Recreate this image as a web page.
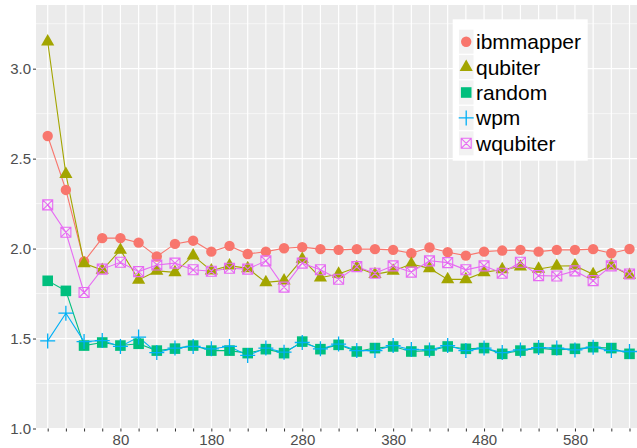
<!DOCTYPE html>
<html>
<head>
<meta charset="utf-8">
<script src="https://cdn.jsdelivr.net/npm/d3@7"></script>
<style>
  body { margin: 0; background: #fff; }
  svg { display: block; font-family: "Liberation Sans", Arial, sans-serif; }
</style>
</head>
<body>
<div id="chart"></div>
<script>
const rootWidth = 637;
const rootHeight = 448;

// x categories (discrete axis), only some of them get a label
const categories = [0, 20, 40, 60, 80, 100, 120, 140, 160, 180, 200, 220, 240, 260, 280, 300,
  320, 340, 360, 380, 400, 420, 440, 460, 480, 500, 520, 540, 560, 580, 600, 620, 640];
const xTickLabels = ["80", "180", "280", "380", "480", "580"];
const yTickValues = [1.0, 1.5, 2.0, 2.5, 3.0];
const yMinorValues = [1.25, 1.75, 2.25, 2.75, 3.25];

const seriesNames = ["ibmmapper", "qubiter", "random", "wpm", "wqubiter"];
const seriesColors = ["#F8766D", "#A3A500", "#00BF7D", "#00B0F6", "#E76BF3"];

const ibmmapper = [2.626, 2.326, 1.928, 2.058, 2.058, 2.033, 1.956, 2.026, 2.044, 1.983,
  2.015, 1.970, 1.983, 2.002, 2.008, 1.997, 1.993, 1.997, 1.997, 1.993, 1.974,
  2.006, 1.980, 1.961, 1.983, 1.989, 1.993, 1.983, 1.993, 1.993, 1.997, 1.974, 1.998];
const qubiter = [3.150, 2.414, 1.918, 1.881, 1.992, 1.826, 1.876, 1.868, 1.961, 1.877,
  1.905, 1.890, 1.812, 1.822, 1.942, 1.838, 1.859, 1.896, 1.857, 1.876, 1.914,
  1.890, 1.829, 1.829, 1.868, 1.884, 1.899, 1.887, 1.903, 1.905, 1.857, 1.905, 1.853];
const random = [1.821, 1.765, 1.461, 1.478, 1.461, 1.471, 1.433, 1.444, 1.461, 1.433,
  1.433, 1.419, 1.441, 1.419, 1.483, 1.441, 1.465, 1.428, 1.447, 1.456, 1.428,
  1.433, 1.456, 1.443, 1.447, 1.415, 1.433, 1.447, 1.437, 1.443, 1.452, 1.447, 1.415];
const wpm = [1.487, 1.641, 1.483, 1.489, 1.456, 1.508, 1.422, 1.447, 1.456, 1.443,
  1.456, 1.406, 1.447, 1.424, 1.478, 1.443, 1.469, 1.433, 1.433, 1.461, 1.439,
  1.437, 1.461, 1.433, 1.447, 1.422, 1.437, 1.450, 1.447, 1.437, 1.452, 1.433, 1.428];
const wqubiter = [2.243, 2.091, 1.756, 1.886, 1.924, 1.872, 1.909, 1.919, 1.882, 1.874,
  1.891, 1.886, 1.932, 1.786, 1.919, 1.882, 1.830, 1.900, 1.863, 1.904, 1.869,
  1.932, 1.922, 1.882, 1.904, 1.863, 1.924, 1.850, 1.848, 1.876, 1.822, 1.904, 1.859];

const seriesValues = [ibmmapper, qubiter, random, wpm, wqubiter];

const panel = { left: 36, right: 637, top: 5, bottom: 428.5 };

const root = d3
  .select("#chart")
  .append("svg")
  .attr("width", rootWidth)
  .attr("height", rootHeight);

const xScale = d3
  .scalePoint()
  .domain(categories)
  .range([47.7, 629.5]);
const yScale = d3
  .scaleLinear()
  .domain([1.0, 3.354])
  .range([panel.bottom, panel.top]);

// panel background + grid
root
  .append("rect")
  .attr("x", panel.left)
  .attr("y", panel.top)
  .attr("width", panel.right - panel.left)
  .attr("height", panel.bottom - panel.top)
  .attr("fill", "#EBEBEB");

const grid = root.append("g");
grid
  .selectAll(".minor")
  .data(yMinorValues)
  .join("line")
  .attr("x1", panel.left)
  .attr("x2", panel.right)
  .attr("y1", (d) => yScale(d))
  .attr("y2", (d) => yScale(d))
  .attr("stroke", "#fff")
  .attr("stroke-width", 0.6);
grid
  .selectAll(".major-y")
  .data(yTickValues)
  .join("line")
  .attr("x1", panel.left)
  .attr("x2", panel.right)
  .attr("y1", (d) => yScale(d))
  .attr("y2", (d) => yScale(d))
  .attr("stroke", "#fff")
  .attr("stroke-width", 1.2);
grid
  .selectAll(".major-x")
  .data(categories)
  .join("line")
  .attr("x1", (d) => xScale(d))
  .attr("x2", (d) => xScale(d))
  .attr("y1", panel.top)
  .attr("y2", panel.bottom)
  .attr("stroke", "#fff")
  .attr("stroke-width", 1.2);

// point shapes, ggplot style
function shapePath(kind) {
  if (kind === "circle") return d3.symbol(d3.symbolCircle, Math.PI * 5.2 * 5.2)();
  if (kind === "triangle") {
    const r = 7.6, xc = r * 0.866;
    return `M0,${-r}L${xc},${r / 2}L${-xc},${r / 2}Z`;
  }
  if (kind === "square") return "M-5.3,-5.3H5.3V5.3H-5.3Z";
  if (kind === "plus") return "M-7.5,0H7.5M0,-7.5V7.5";
  // square with an x
  return "M-5,-5H5V5H-5ZM-5,-5L5,5M5,-5L-5,5";
}
const shapes = ["circle", "triangle", "square", "plus", "squarecross"];

function drawShape(sel, i) {
  const filled = i < 3;
  sel
    .append("path")
    .attr("d", shapePath(shapes[i]))
    .attr("fill", filled ? seriesColors[i] : "none")
    .attr("stroke", filled ? "none" : seriesColors[i])
    .attr("stroke-width", i === 3 ? 1.3 : 1.1);
}

const line = d3
  .line()
  .x((d, j) => xScale(categories[j]))
  .y((d) => yScale(d));

const lines = root.append("g");
seriesValues.forEach((vals, i) => {
  lines
    .append("path")
    .attr("d", line(vals))
    .attr("fill", "none")
    .attr("stroke", seriesColors[i])
    .attr("stroke-width", 1.1);
});

const points = root.append("g");
seriesValues.forEach((vals, i) => {
  vals.forEach((v, j) => {
    const g = points
      .append("g")
      .attr("transform", `translate(${xScale(categories[j])}, ${yScale(v)})`);
    drawShape(g, i);
  });
});

// axes
const xAxis = root
  .append("g")
  .attr("transform", `translate(0, ${panel.bottom})`)
  .call(
    d3
      .axisBottom(xScale)
      .tickSize(3)
      .tickPadding(3)
      .tickFormat((d) => (xTickLabels.includes(String(d)) ? d : ""))
  );
const yAxis = root
  .append("g")
  .attr("transform", `translate(${panel.left}, 0)`)
  .call(
    d3
      .axisLeft(yScale)
      .tickValues(yTickValues)
      .tickSize(3)
      .tickPadding(2)
      .tickFormat(d3.format(".1f"))
  );
[xAxis, yAxis].forEach((ax) => {
  ax.select(".domain").remove();
  ax.selectAll(".tick line").attr("stroke", "#333333");
  ax.selectAll(".tick text")
    .attr("fill", "#4D4D4D")
    .attr("font-size", 15)
    .attr("font-family", "Liberation Sans, Arial, sans-serif");
});

// legend
const legend = root.append("g");
legend
  .append("rect")
  .attr("x", 452.7)
  .attr("y", 19.3)
  .attr("width", 135)
  .attr("height", 141.4)
  .attr("fill", "#fff");

seriesNames.forEach((name, i) => {
  const cy = 41.7 + i * 25.4;
  legend
    .append("rect")
    .attr("x", 459)
    .attr("y", cy - 12)
    .attr("width", 14.5)
    .attr("height", 24)
    .attr("fill", "#F2F2F2");
  const g = legend.append("g").attr("transform", `translate(466.2, ${cy})`);
  drawShape(g, i);
  legend
    .append("text")
    .attr("x", 476)
    .attr("y", cy)
    .attr("dy", "0.36em")
    .attr("font-size", 21)
    .attr("fill", "#000")
    .text(name);
});
</script>
</body>
</html>
